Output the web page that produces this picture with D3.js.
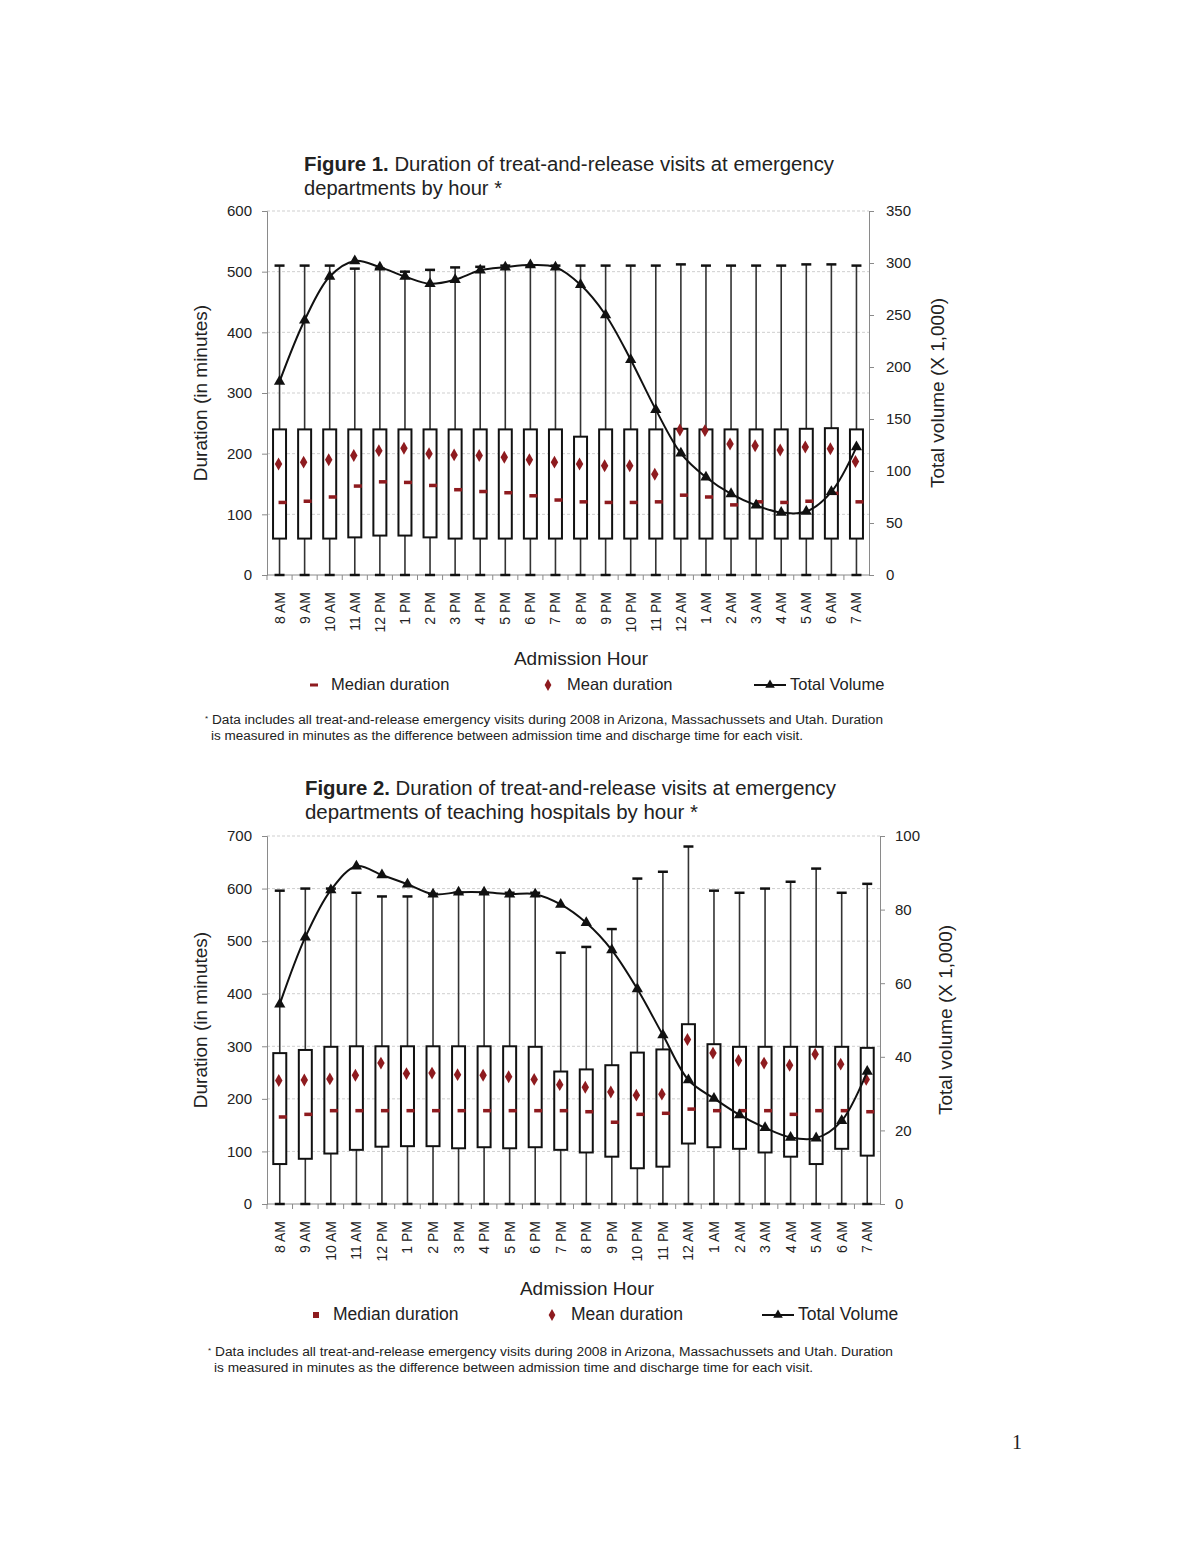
<!DOCTYPE html>
<html><head><meta charset="utf-8">
<script src="https://cdn.jsdelivr.net/npm/d3@7"></script>
<style>
body{margin:0;background:#fff;}
svg text{font-family:"Liberation Sans",Arial,sans-serif;fill:#222;}
</style></head>
<body>
<svg id="page" width="1200" height="1553"></svg>
<script>
const hours = ["8 AM","9 AM","10 AM","11 AM","12 PM","1 PM","2 PM","3 PM","4 PM","5 PM","6 PM","7 PM","8 PM","9 PM","10 PM","11 PM","12 AM","1 AM","2 AM","3 AM","4 AM","5 AM","6 AM","7 AM"];

// Figure 1 (all hospitals)
const fig1WhiskerTop = [510,510,510,505,505,500,503,507,508,510,510,510,510,510,510,510,512,510,510,510,510,512,512,510];
const fig1Q3 = [240,240,240,240,240,240,240,240,240,240,240,240,228,240,240,240,241,240,240,240,240,241,242,240];
const fig1Q1 = [60,60,60,62,65,65,62,60,60,60,60,60,60,60,60,60,60,60,60,60,60,60,60,60];
const fig1Mean = [183,186,190,197,205,209,200,198,197,194,190,186,183,180,180,166,239,238,216,213,206,211,208,187];
const fig1Median = [120,122,129,147,154,153,148,141,138,136,131,124,121,120,120,121,132,129,116,121,120,122,135,121];
const fig1Volume = [186,245,287,302,296,287,280,284,293,296,298,296,279,250,207,159,117,94,78,67,60,61,80,123];
const fig1LeftTicks = [0,100,200,300,400,500,600];
const fig1RightTicks = [0,50,100,150,200,250,300,350];

// Figure 2 (teaching hospitals)
const fig2WhiskerTop = [596,600,600,592,585,585,590,592,592,592,592,478,489,523,619,632,680,596,592,600,613,638,592,609];
const fig2Q3 = [287,293,299,300,300,300,300,300,300,300,299,252,256,264,288,294,342,304,299,299,299,299,299,297];
const fig2Q1 = [76,86,96,103,109,110,110,106,108,106,108,103,98,90,68,71,115,108,105,98,90,76,105,92];
const fig2Mean = [235,236,238,245,268,248,249,246,245,242,237,227,222,213,207,209,313,287,273,268,264,285,266,237];
const fig2Median = [166,171,178,178,178,178,178,178,178,178,178,178,176,156,171,173,181,178,178,178,171,178,178,176];
const fig2Volume = [54.3,72.5,85.3,91.8,89.4,86.9,84.2,84.7,84.7,84.2,84.2,81.4,76.4,69,58.4,45.9,33.7,28.7,24.2,20.7,18.1,17.9,22.6,36];
const fig2LeftTicks = [0,100,200,300,400,500,600,700];
const fig2RightTicks = [0,20,40,60,80,100];

const svg = d3.select("#page");
const RED = "#8e1b1f";

function drawFigure(cfg){
  const g = svg.append("g");
  const x = d3.scaleBand().domain(hours).range([cfg.x0, cfg.x1]);
  const yL = d3.scaleLinear().domain([0, cfg.maxL]).range([cfg.bottom, cfg.top]);
  const yR = d3.scaleLinear().domain([0, cfg.maxR]).range([cfg.bottom, cfg.top]);
  const cx = h => x(h) + x.bandwidth()/2;

  // title
  const t = g.append("text").attr("x", cfg.titleX).attr("y", cfg.titleY).style("font-size","20px")
    .attr("textLength", cfg.title1Len).attr("lengthAdjust","spacingAndGlyphs");
  t.append("tspan").style("font-weight","bold").text(cfg.titleBold);
  t.append("tspan").text(cfg.title1);
  g.append("text").attr("x", cfg.titleX).attr("y", cfg.titleY + 24).style("font-size","20px")
    .attr("textLength", cfg.title2Len).attr("lengthAdjust","spacingAndGlyphs").text(cfg.title2);

  // gridlines
  g.selectAll(".grid").data(cfg.leftTicks.filter(d=>d>0)).join("line")
    .attr("x1", cfg.x0).attr("x2", cfg.x1)
    .attr("y1", d=>yL(d)).attr("y2", d=>yL(d))
    .attr("stroke","#cfcfcf").attr("stroke-width",1).attr("stroke-dasharray","3,2");

  // left axis
  const la = g.append("g").attr("transform",`translate(${cfg.x0},0)`)
    .call(d3.axisLeft(yL).tickValues(cfg.leftTicks).tickSize(5).tickPadding(10).tickFormat(d3.format("d")));
  la.select(".domain").attr("stroke","#8a8a8a");
  la.selectAll(".tick line").attr("stroke","#8a8a8a");
  la.selectAll("text").style("font-size","15px").style("font-family","Liberation Sans, Arial, sans-serif").attr("fill","#222");

  // right axis
  const ra = g.append("g").attr("transform",`translate(${cfg.x1},0)`)
    .call(d3.axisRight(yR).tickValues(cfg.rightTicks).tickSize(5).tickPadding(cfg.rightPad).tickFormat(d3.format("d")));
  ra.select(".domain").attr("stroke","#8a8a8a");
  ra.selectAll(".tick line").attr("stroke","#8a8a8a");
  ra.selectAll("text").style("font-size","15px").style("font-family","Liberation Sans, Arial, sans-serif").attr("fill","#222");

  // bottom axis line + boundary ticks
  g.append("line").attr("x1",cfg.x0).attr("x2",cfg.x1).attr("y1",cfg.bottom).attr("y2",cfg.bottom).attr("stroke","#8a8a8a");
  g.selectAll(".xb").data(hours).join("line")
    .attr("x1", d=>x(d)).attr("x2", d=>x(d))
    .attr("y1", cfg.bottom).attr("y2", cfg.bottom+5).attr("stroke","#8a8a8a");
  g.selectAll(".xl").data(hours).join("text")
    .attr("transform", d=>`translate(${cx(d)+5},${cfg.bottom+17}) rotate(-90)`)
    .attr("text-anchor","end").style("font-size","14px").text(d=>d);

  // whiskers
  g.selectAll(".wh").data(hours).join("line")
    .attr("x1", cx).attr("x2", cx)
    .attr("y1", yL(0)).attr("y2", (d,i)=>yL(cfg.whisker[i]))
    .attr("stroke","#333").attr("stroke-width",1.6);
  // caps
  g.selectAll(".capt").data(hours).join("line")
    .attr("x1", d=>cx(d)-5).attr("x2", d=>cx(d)+5)
    .attr("y1", (d,i)=>yL(cfg.whisker[i])).attr("y2", (d,i)=>yL(cfg.whisker[i]))
    .attr("stroke","#111").attr("stroke-width",2.5);
  g.selectAll(".capb").data(hours).join("line")
    .attr("x1", d=>cx(d)-5).attr("x2", d=>cx(d)+5)
    .attr("y1", yL(0)).attr("y2", yL(0))
    .attr("stroke","#111").attr("stroke-width",2.5);
  // boxes
  g.selectAll(".box").data(hours).join("rect")
    .attr("x", d=>cx(d)-6.5).attr("width",13)
    .attr("y", (d,i)=>yL(cfg.q3[i])).attr("height", (d,i)=>yL(cfg.q1[i])-yL(cfg.q3[i]))
    .attr("fill","#fff").attr("stroke","#111").attr("stroke-width",2);
  // medians
  g.selectAll(".med").data(hours).join("rect")
    .attr("x", d=>cx(d)-1).attr("width",8)
    .attr("y", (d,i)=>yL(cfg.median[i])-1.5).attr("height",3.5)
    .attr("fill",RED);
  // means
  const dsym = d3.symbol().type(d3.symbolDiamond).size(48);
  g.selectAll(".mean").data(hours).join("path")
    .attr("d", dsym)
    .attr("transform", (d,i)=>`translate(${cx(d)-1},${yL(cfg.mean[i])})`)
    .attr("fill",RED);
  // volume line
  const line = d3.line().x((d,i)=>cx(hours[i])).y(d=>yR(d)).curve(d3.curveCatmullRom.alpha(0.5));
  g.append("path").datum(cfg.volume).attr("d", line)
    .attr("fill","none").attr("stroke","#111").attr("stroke-width",2);
  const tsym = d3.symbol().type(d3.symbolTriangle).size(55);
  g.selectAll(".tri").data(cfg.volume).join("path")
    .attr("d", tsym)
    .attr("transform", (d,i)=>`translate(${cx(hours[i])},${yR(d)})`)
    .attr("fill","#111");

  // axis titles
  const midY = (cfg.top + cfg.bottom)/2;
  g.append("text").attr("transform",`translate(${cfg.leftTitleX},${midY}) rotate(-90)`)
    .attr("text-anchor","middle").style("font-size","19px").text("Duration (in minutes)");
  g.append("text").attr("transform",`translate(${cfg.rightTitleX},${midY}) rotate(-90)`)
    .attr("text-anchor","middle").style("font-size","19px").text("Total volume (X 1,000)");
  g.append("text").attr("x", cfg.xTitleX).attr("y", cfg.xTitleY).attr("text-anchor","middle")
    .style("font-size","19px").text("Admission Hour");

  // legend
  const ly = cfg.legendY;
  const lfs = cfg.legendFont + "px";
  if (cfg.medianSquare) {
    g.append("rect").attr("x", cfg.leg[0]-3).attr("y", ly-8).attr("width",6).attr("height",6).attr("fill",RED);
  } else {
    g.append("rect").attr("x", cfg.leg[0]-4).attr("y", ly-6.5).attr("width",8).attr("height",3).attr("fill",RED);
  }
  g.append("text").attr("x", cfg.leg[0]+17).attr("y", ly).style("font-size",lfs).text("Median duration");
  g.append("path").attr("d", d3.symbol().type(d3.symbolDiamond).size(40))
    .attr("transform",`translate(${cfg.leg[1]},${ly-5})`).attr("fill",RED);
  g.append("text").attr("x", cfg.leg[1]+19).attr("y", ly).style("font-size",lfs).text("Mean duration");
  g.append("line").attr("x1", cfg.leg[2]).attr("x2", cfg.leg[2]+32).attr("y1", ly-5).attr("y2", ly-5)
    .attr("stroke","#111").attr("stroke-width",2);
  g.append("path").attr("d", d3.symbol().type(d3.symbolTriangle).size(40))
    .attr("transform",`translate(${cfg.leg[2]+16},${ly-5})`).attr("fill","#111");
  g.append("text").attr("x", cfg.leg[2]+36).attr("y", ly).style("font-size",lfs).text("Total Volume");

  // footnote
  g.append("text").attr("x", cfg.footX).attr("y", cfg.footY-3).style("font-size","8px").text("*");
  g.append("text").attr("x", cfg.footX+7).attr("y", cfg.footY).style("font-size","12.5px")
    .attr("textLength", cfg.foot1Len).attr("lengthAdjust","spacingAndGlyphs").text(cfg.foot1);
  g.append("text").attr("x", cfg.footX+6).attr("y", cfg.footY+16).style("font-size","12.5px")
    .attr("textLength", cfg.foot2Len).attr("lengthAdjust","spacingAndGlyphs").text(cfg.foot2);
}

const foot2 = "is measured in minutes as the difference between admission time and discharge time for each visit.";

drawFigure({
  x0:267, x1:869, top:211, bottom:575, maxL:600, maxR:350,
  leftTicks: fig1LeftTicks, rightTicks: fig1RightTicks, rightPad:12,
  whisker: fig1WhiskerTop, q3: fig1Q3, q1: fig1Q1, mean: fig1Mean, median: fig1Median, volume: fig1Volume,
  titleX:304, titleY:171, titleBold:"Figure 1.", title1:" Duration of treat-and-release visits at emergency",
  title2:"departments by hour *", title1Len:530, title2Len:198,
  leftTitleX:207, rightTitleX:944, xTitleX:581, xTitleY:665,
  legendY:690, leg:[314,548,754], medianSquare:false, legendFont:16.5,
  footX:205, footY:724, foot1: "Data includes all treat-and-release  emergency visits during 2008 in Arizona, Massachussets and Utah. Duration",
  foot2: foot2, foot1Len:671, foot2Len:592
});

drawFigure({
  x0:267, x1:880, top:836, bottom:1204, maxL:700, maxR:100,
  leftTicks: fig2LeftTicks, rightTicks: fig2RightTicks, rightPad:10,
  whisker: fig2WhiskerTop, q3: fig2Q3, q1: fig2Q1, mean: fig2Mean, median: fig2Median, volume: fig2Volume,
  titleX:305, titleY:795, titleBold:"Figure 2.", title1:" Duration of treat-and-release  visits at emergency",
  title2:"departments  of teaching hospitals by hour *", title1Len:531, title2Len:393,
  leftTitleX:207, rightTitleX:952, xTitleX:587, xTitleY:1295,
  legendY:1320, leg:[316,552,762], medianSquare:true, legendFont:17.5,
  footX:208, footY:1356, foot1: "Data includes all treat-and-release   emergency visits during 2008 in Arizona, Massachussets  and Utah. Duration",
  foot2: foot2, foot1Len:678, foot2Len:599
});

svg.append("text").attr("x",1012).attr("y",1449).style("font-family","Liberation Serif, Times New Roman, serif")
  .style("font-size","20px").text("1");
</script>
</body></html>
